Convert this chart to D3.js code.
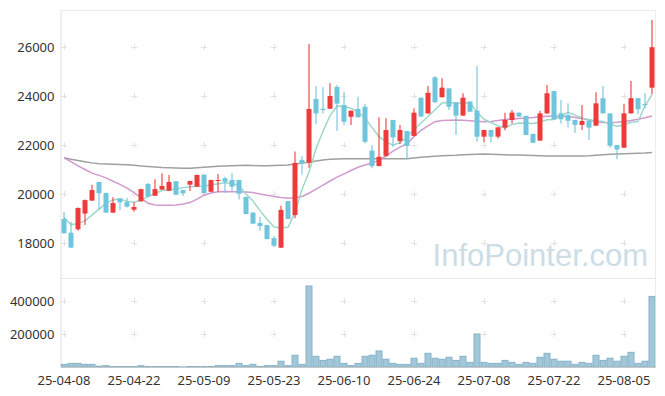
<!DOCTYPE html>
<html>
<head>
<meta charset="utf-8">
<script src="https://cdn.jsdelivr.net/npm/d3@7"></script>
<style>
  html, body { margin: 0; padding: 0; background: #fff; }
  svg { display: block; font-family: "Noto Sans", "DejaVu Sans", sans-serif; }
</style>
</head>
<body>
<div id="chart"></div>
<script>
// trading days shown on the chart
const dates = ["04-08","04-09","04-10","04-11","04-14","04-15","04-16","04-17","04-18","04-21",
  "04-22","04-23","04-24","04-25","04-28","04-29","04-30","05-02","05-07","05-08",
  "05-09","05-12","05-13","05-14","05-15","05-16","05-19","05-20","05-21","05-22",
  "05-23","05-26","05-27","05-28","05-29","05-30","06-02","06-04","06-05","06-09",
  "06-10","06-11","06-12","06-13","06-16","06-17","06-18","06-19","06-20","06-23",
  "06-24","06-25","06-26","06-27","06-30","07-01","07-02","07-03","07-04","07-07",
  "07-08","07-09","07-10","07-11","07-14","07-15","07-16","07-17","07-18","07-21",
  "07-22","07-23","07-24","07-25","07-28","07-29","07-30","07-31","08-01","08-04",
  "08-05","08-06","08-07","08-08","08-11"].map(d => "25-" + d);

const tickDates = ["25-04-08","25-04-22","25-05-09","25-05-23","25-06-10","25-06-24","25-07-08","25-07-22","25-08-05"];
const priceTicks = [18000, 20000, 22000, 24000, 26000];
const volumeTicks = [200000, 400000];

const open = [18980,18420,18560,19200,19730,20490,20040,19240,19820,19670,
  19360,19700,20410,19930,20180,20130,20520,20160,20380,20300,
  20790,20090,20530,20640,20570,20570,19880,19240,18820,18730,
  18200,17810,19710,19140,21390,21280,23880,23480,23480,24370,
  23630,23150,23470,23560,21770,21140,21560,23020,22160,22570,
  22370,23930,23290,24760,23950,24310,23730,23200,23770,23400,
  22340,22610,22340,22710,23020,23320,23190,22450,22180,23290,
  24200,23290,23220,23020,22820,22990,22790,23910,23290,22000,
  21890,23290,23910,23670,24340];
const high = [19280,18870,19450,19780,20380,20500,20060,19870,19830,19850,
  19660,20210,20450,20600,20850,20780,20530,20170,20540,20790,
  20800,20580,20820,20700,20850,20580,19890,19250,19070,18740,
  18290,19520,19720,21730,21550,26120,24410,24360,24520,24450,
  24150,23410,23970,23680,22000,23130,23090,23030,22820,22580,
  23500,23940,24410,24820,24720,24320,23740,24110,23800,25220,
  22620,22620,22730,23320,23430,23330,23190,22460,23400,24450,
  24210,23840,23700,23030,23630,23000,24150,24410,23300,22010,
  23670,24610,23930,24110,27100];
const low = [18380,17800,18500,18730,19720,19350,19230,19230,19350,19450,
  19280,19690,19880,19920,20170,20120,19950,19920,20120,20290,
  20000,20080,20090,20050,20100,19780,19170,18760,18500,18150,
  17840,17800,18970,19010,20800,21070,22860,23290,23470,22570,
  22820,22820,23120,22070,21050,21130,21520,21930,22040,21420,
  22360,23150,23280,23730,23940,23430,22410,23190,23350,22130,
  22110,22100,22270,22600,22880,23150,22400,22080,22170,23280,
  23040,22880,22710,22500,22610,22200,22780,23280,21890,21420,
  21880,23280,23250,23500,24070];
const close = [18400,17810,19430,19750,20160,20030,19240,19630,19660,19480,
  19470,20200,19890,20200,20330,20490,19970,20030,20530,20780,
  20040,20570,20570,20500,20300,20010,19180,18790,18690,18160,
  17890,19350,18980,21270,21250,23470,23290,23430,24000,23690,
  22950,23400,23130,22130,21140,21520,22610,22310,22610,21960,
  23320,23160,24130,23740,24340,23560,23200,23930,23360,22340,
  22610,22340,22720,23020,23320,23160,22410,22090,23290,24110,
  23050,23050,22990,22820,22980,22710,23700,23290,21970,21820,
  23290,23910,23460,23650,25990];
const volume = [16000,22000,22000,16000,16000,5000,8000,3000,3000,3000,
  3000,8000,3000,3000,3000,3000,3000,500,3000,3000,
  3000,3000,8000,8000,8000,22000,8000,16000,3000,8000,
  8000,35000,8000,71000,16000,491000,65000,40000,47000,65000,
  22000,8000,22000,65000,71000,97000,47000,22000,16000,16000,
  53000,22000,83000,53000,47000,59000,40000,65000,28000,200000,
  28000,22000,22000,40000,28000,16000,28000,22000,59000,83000,
  47000,35000,35000,16000,28000,22000,71000,40000,53000,35000,
  65000,89000,22000,35000,428000];

// moving averages
const ma5 = [19050,18750,18790,18900,19140,19380,19620,19760,19790,19700,
  19660,19750,19890,20020,20140,20170,20200,20260,20300,20320,
  20330,20370,20420,20460,20440,20340,20000,19710,19320,18970,
  18650,18620,18640,19250,20180,20900,21850,22560,23200,23590,
  23570,23500,23350,23090,22720,22340,22130,21990,22100,22340,
  22620,22900,23160,23440,23710,23730,23710,23710,23720,23350,
  23050,22920,22780,22690,22840,22900,22890,22880,22940,23030,
  23040,23200,23330,23220,23100,23030,22990,22960,22870,22760,
  22830,22930,22960,23600,24050];
const ma20 = [21480,21320,21150,21000,20850,20760,20660,20520,20390,20240,
  20060,19840,19620,19550,19540,19540,19550,19590,19650,19790,
  19950,20040,20090,20100,20090,20090,20080,20060,20000,19950,
  19900,19860,19830,19850,19900,20030,20200,20360,20530,20690,
  20820,20960,21090,21180,21260,21380,21550,21750,21910,22060,
  22340,22600,22780,22950,23000,23010,23020,23010,22990,22970,
  22950,22960,23000,23040,23060,23080,23100,23120,23150,23170,
  23180,23180,23160,23120,23080,23020,22950,22920,22910,22930,
  22960,23000,23050,23110,23180];
const ma60 = [21480,21420,21370,21320,21270,21230,21220,21210,21200,21190,
  21170,21140,21120,21100,21080,21070,21060,21050,21050,21070,
  21090,21110,21130,21140,21150,21160,21170,21160,21150,21150,
  21160,21170,21180,21220,21260,21300,21350,21390,21420,21430,
  21440,21440,21440,21440,21440,21440,21440,21440,21440,21440,
  21470,21500,21520,21540,21560,21570,21580,21600,21610,21620,
  21630,21620,21610,21600,21590,21590,21580,21570,21560,21550,
  21550,21550,21550,21550,21550,21560,21580,21600,21620,21630,
  21640,21650,21660,21670,21690];

const width = 665, height = 396;
const plot = { left: 60.5, right: 655.5, top: 10, split: 278, bottom: 367 };

const upColor = "#ee3a3a", downColor = "#6fc5db";
const gridColor = "#e2e2e2";

const svg = d3.select("#chart").append("svg")
  .attr("width", width).attr("height", height);

const rows = dates.map((d, i) => ({
  date: d, open: open[i], high: high[i], low: low[i], close: close[i],
  volume: volume[i], ma5: ma5[i], ma20: ma20[i], ma60: ma60[i]
}));

// scales
const x = d3.scaleBand().domain(dates).range([plot.left, plot.right]).padding(0);
const xc = d => x(d) + x.bandwidth() / 2;
const yPrice = d3.scaleLinear().domain([16571, 27510]).range([plot.split, plot.top]);
const yVol = d3.scaleLinear().domain([0, 539400]).range([plot.bottom, plot.split]);

svg.append("defs").append("clipPath").attr("id", "clip")
  .append("rect")
  .attr("x", plot.left).attr("y", plot.top)
  .attr("width", plot.right - plot.left).attr("height", plot.bottom - plot.top);

// frame lines
const frame = svg.append("g").attr("class", "frame").attr("fill", "none");
frame.append("line").attr("x1", plot.left).attr("x2", plot.right)
  .attr("y1", plot.top + 0.5).attr("y2", plot.top + 0.5).attr("stroke", "#ececec");
frame.append("line").attr("x1", plot.left).attr("x2", plot.right)
  .attr("y1", plot.split + 0.5).attr("y2", plot.split + 0.5).attr("stroke", "#e6e6e6");
frame.append("line").attr("x1", plot.right).attr("x2", plot.right)
  .attr("y1", plot.top).attr("y2", plot.bottom).attr("stroke", "#ececec");
frame.append("line").attr("x1", plot.left + 0.5).attr("x2", plot.left + 0.5)
  .attr("y1", plot.top).attr("y2", plot.bottom).attr("stroke", "#e0e0e0");

// grid crosses
const crossPts = [];
tickDates.forEach(d => {
  priceTicks.forEach(v => crossPts.push([xc(d), yPrice(v)]));
  volumeTicks.forEach(v => crossPts.push([xc(d), yVol(v)]));
});
svg.append("g").attr("class", "grid")
  .selectAll("path").data(crossPts).join("path")
  .attr("d", p => `M${p[0] - 3},${Math.round(p[1]) + 0.5}h6M${Math.round(p[0]) + 0.5},${p[1] - 3}v6`)
  .attr("stroke", gridColor).attr("stroke-width", 1);

// watermark
svg.append("text")
  .attr("x", 648).attr("y", 266)
  .attr("text-anchor", "end")
  .attr("font-size", 31)
  .attr("font-family", "Liberation Sans, Arial, sans-serif")
  .attr("fill", "#ccdde6")
  .text("InfoPointer.com");

// y axes (labels only)
const yAxisPrice = d3.axisLeft(yPrice).tickValues(priceTicks).tickFormat(d3.format("d")).tickSize(0).tickPadding(6);
const yAxisVol = d3.axisLeft(yVol).tickValues(volumeTicks).tickFormat(d3.format("d")).tickSize(0).tickPadding(6);
[yAxisPrice, yAxisVol].forEach(ax => {
  const g = svg.append("g").attr("transform", `translate(${plot.left},0)`).call(ax);
  g.select(".domain").remove();
  g.selectAll("text").attr("font-size", 13).attr("fill", "#333")
    .attr("font-family", "Noto Sans, sans-serif");
});

// x axis
const xAxis = d3.axisBottom(x).tickValues(tickDates).tickSize(0).tickPadding(9);
const gx = svg.append("g").attr("transform", `translate(0,${plot.bottom})`).call(xAxis);
gx.select(".domain").attr("stroke", "#c8c8c8");
gx.selectAll("text").attr("font-size", 13).attr("fill", "#333")
  .attr("font-family", "Noto Sans, sans-serif");

const body = svg.append("g").attr("clip-path", "url(#clip)");

// volume bars
body.append("g").attr("class", "volume")
  .selectAll("rect").data(rows).join("rect")
  .attr("x", d => x(d.date) + 0.5)
  .attr("y", d => yVol(d.volume))
  .attr("width", x.bandwidth() - 1)
  .attr("height", d => plot.bottom - yVol(d.volume))
  .attr("fill", "#a2c7d8")
  .attr("stroke", "#86b2c7")
  .attr("stroke-width", 1);

// moving averages
const maLine = key => d3.line().x(d => xc(d.date)).y(d => yPrice(d[key]));
const maStyles = [["ma60", "#a0a0a0"], ["ma20", "#d09acc"], ["ma5", "#9fd6cc"]];
maStyles.forEach(([key, col]) => {
  body.append("path").datum(rows)
    .attr("fill", "none").attr("stroke", col).attr("stroke-width", 1.5)
    .attr("d", maLine(key));
});

// candles
const candles = body.append("g").attr("class", "candles")
  .selectAll("g").data(rows).join("g");
candles.append("line")
  .attr("x1", d => xc(d.date)).attr("x2", d => xc(d.date))
  .attr("y1", d => yPrice(d.high)).attr("y2", d => yPrice(d.low))
  .attr("stroke", d => d.close >= d.open ? upColor : downColor)
  .attr("stroke-width", 1.1);
candles.append("rect")
  .attr("x", d => xc(d.date) - 2.5)
  .attr("y", d => yPrice(Math.max(d.open, d.close)))
  .attr("width", 5)
  .attr("height", d => Math.max(1, Math.abs(yPrice(d.open) - yPrice(d.close))))
  .attr("fill", d => d.close >= d.open ? upColor : downColor);
</script>
</body>
</html>
